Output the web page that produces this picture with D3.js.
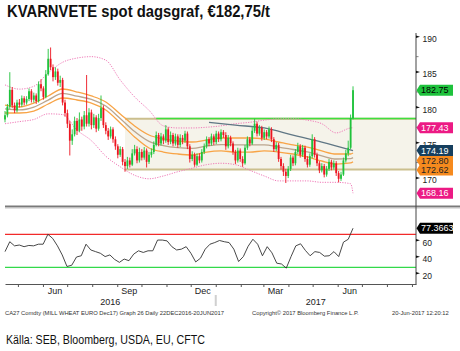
<!DOCTYPE html>
<html><head><meta charset="utf-8">
<script src="https://cdn.jsdelivr.net/npm/d3@7"></script>
<style>body{margin:0;background:#fff;} svg{display:block;}</style>
</head><body><svg id="c" width="460" height="351"></svg>
<script>
// ---------- DATA ----------
const titleText = "KVARNVETE spot dagsgraf, €182,75/t";
const sourceText = "Källa: SEB, Bloomberg, USDA, EU, CFTC";
const footLeft = "CA27 Comdty  (MILL WHEAT EURO   Dec17) Graph 26   Daily 22DEC2016-20JUN2017";
const footMid = "Copyright© 2017 Bloomberg Finance L.P.";
const footRight = "20-Jun-2017 12:20:12";

const firstOpen = 178.6;
const closes = [179.2,180.4,182.8,180.6,179.9,181.0,180.7,181.6,181.0,181.5,
182.6,181.4,182.0,181.2,183.6,183.0,181.8,185.0,187.2,186.0,
184.6,185.4,183.8,184.2,181.0,179.5,178.0,175.6,176.5,178.4,
177.0,178.6,177.6,179.2,178.0,179.6,177.8,178.9,177.3,178.8,
180.2,177.8,177.0,176.2,177.2,175.8,174.8,173.6,174.4,172.6,
172.0,172.8,172.2,173.8,174.4,172.8,174.0,173.2,174.2,172.6,
173.6,174.0,175.0,176.4,175.2,176.2,175.6,177.2,175.4,176.4,
175.2,176.2,175.0,176.0,175.6,176.6,174.8,173.0,173.6,172.2,
173.4,172.8,174.0,174.8,175.8,175.2,176.2,175.4,176.6,175.8,
176.8,176.4,174.8,176.0,175.2,174.0,172.8,174.2,173.0,172.4,
174.6,175.8,175.2,177.0,178.0,176.6,177.4,176.0,176.8,176.2,
177.2,175.8,174.4,175.0,173.0,172.0,171.2,170.6,171.6,173.2,
172.4,174.0,174.8,173.6,174.6,173.0,172.2,173.4,175.8,173.6,
172.4,171.4,172.0,170.8,171.6,172.6,171.8,172.4,171.0,170.2,
170.8,172.8,173.8,174.6,178.8,182.75];
const highs = [179.8,180.8,185.3,183.2,181.0,181.4,181.5,182.0,181.9,181.9,
183.0,182.9,182.4,182.3,184.0,184.3,183.3,185.6,188.6,188.8,
186.4,186.0,185.8,184.8,184.5,181.4,180.0,178.4,177.2,179.0,
178.8,179.6,179.0,179.8,184.9,180.2,180.0,179.4,179.2,179.4,
182.0,180.6,178.2,177.4,177.6,177.5,176.2,175.1,174.8,174.7,
173.0,173.3,173.2,174.4,175.0,174.8,174.6,174.4,174.7,174.5,
174.0,174.5,175.5,176.9,176.7,176.7,176.5,177.8,177.5,176.9,
176.7,176.6,176.5,176.5,176.4,177.0,176.9,175.1,174.1,173.9,
173.8,173.8,174.4,175.2,176.2,176.1,176.6,176.5,177.0,176.9,
177.2,177.1,176.8,176.4,176.3,175.5,174.3,174.6,174.5,173.4,
175.0,176.2,176.1,177.5,178.7,178.3,177.8,177.7,177.2,177.1,
177.6,177.5,176.1,175.4,175.3,173.3,172.4,171.6,172.0,173.6,
173.5,174.4,175.3,175.1,175.0,174.9,173.4,173.8,176.5,176.1,
173.9,172.7,172.4,172.3,172.0,173.0,172.9,172.8,172.7,171.3,
171.2,173.2,174.3,175.6,179.3,183.3];
const lows = [178.2,178.9,180.1,180.2,179.5,179.6,180.3,180.4,180.6,180.7,
181.2,181.0,181.0,180.8,181.0,182.6,181.4,181.6,184.8,185.6,
184.0,184.2,183.4,183.2,180.6,179.0,177.4,173.5,175.0,176.2,
176.4,176.8,177.0,177.2,177.6,177.6,177.2,177.4,176.8,177.0,
178.4,177.4,176.5,175.7,175.9,175.3,174.3,173.1,173.3,172.1,
171.2,171.6,171.8,172.0,173.5,172.4,172.5,172.8,172.9,171.8,
172.3,173.2,173.7,174.8,174.8,174.9,175.1,175.3,175.0,175.1,
174.8,174.9,174.6,174.7,175.1,175.3,174.4,172.5,172.7,171.9,
172.0,172.4,172.5,173.7,174.5,174.8,174.9,175.0,175.1,175.4,
175.5,176.0,174.3,174.5,174.8,173.6,172.3,172.5,172.6,171.9,
172.2,174.3,174.8,175.0,176.7,176.2,176.3,175.6,175.7,175.8,
175.9,175.4,174.0,174.1,172.6,171.5,170.6,169.6,170.3,171.3,
172.0,172.1,173.7,173.2,173.3,172.6,171.8,171.9,173.1,173.2,
172.0,171.0,171.1,170.4,170.5,171.3,171.4,171.5,170.6,169.7,
169.9,170.6,172.5,173.4,174.4,178.6];

// band values read at these candle positions
const bandIdx = [0,6,12,18,24,30,36,42,48,54,60,66,72,78,84,90,96,102,108,114,120,126,132,138,144,145];
const bbUpper = [183.5,182.9,183.3,185.2,186.7,187.3,187.5,187.0,184.2,181.8,179.9,177.7,177.4,177.4,177.5,177.7,178.0,178.2,178.5,178.7,178.7,178.5,178.0,176.7,177.4,177.43];
const bbLower = [178.0,178.3,178.6,179.4,179.3,177.1,175.6,173.4,171.9,170.7,170.2,170.6,171.2,171.7,172.2,172.4,172.2,171.4,170.6,169.9,169.9,169.9,169.7,169.7,169.5,168.16];
const envUpper = [180.65,180.37,180.93,181.93,182.92,182.49,181.93,181.08,179.38,177.68,176.40,175.84,175.55,175.41,175.69,175.98,175.98,175.98,175.84,175.41,174.99,174.70,174.14,173.71,173.71,173.85];
const envMid = [180.1,179.95,180.35,181.35,182.3,181.9,181.45,180.5,178.75,176.9,175.5,174.9,174.6,174.5,174.85,175.05,175.0,175.0,175.0,174.7,174.35,174.0,173.45,173.0,173.05,173.2];
const envLower = [179.52,179.52,179.80,180.79,181.64,181.36,180.93,179.94,178.10,176.12,174.56,173.99,173.71,173.57,173.99,174.14,173.99,173.99,174.14,173.99,173.71,173.29,172.72,172.29,172.44,172.62];
const ma200Idx = [85,96,108,120,132,145];
const ma200 = [178.2,177.8,177.4,176.4,175.4,174.19];

const rangeTop = 178.7, rangeBottom = 171.5;
const rangeStartIdx = 50, breakLineStartIdx = 63;

const rsi = [49,61,56,57,55,56.5,56,58,58,70,65,56,45,31,32.5,42.5,44,58,51,49,
47,43,45,39.5,36,40,38,46,50,48,50,50,63,63,62,55,51,52,55,47,
36.5,41,52,58,60,62.5,61,60,52,37,43,55.5,64,58,44,55,47.5,35,34,29,
43,56,58.5,50.5,44,49,48,43.5,44,49,43,60.5,64,77.37];
const rsiLast = "77.3663";
const rsiLevels = [70,30];

const priceTicks = [170,175,180,185,190];
const rsiTicks = [20,40,60];
// end-of-series value tags, highest first
const labelValues = [182.75,177.43,174.19,172.80,172.62,168.16];
const labelFill = ["#1ec23c","#ec1a84","#163f5e","#f68a1e","#f68a1e","#ec1a84"];
const labelInk = ["#000","#fff","#fff","#222","#222","#fff"];

const monthNames = ["Jun","Sep","Dec","Mar","Jun"];
const monthDates = [new Date(2016,5,16),new Date(2016,8,16),new Date(2016,11,16),new Date(2017,2,16),new Date(2017,5,16)];
const yearNames = ["2016","2017"];
const yearSpans = [[new Date(2016,3,15),new Date(2017,0,1)],[new Date(2017,0,1),new Date(2017,8,6)]];

// ---------- CHART ----------
const svg = d3.select("#c");
const AX = 416, L = 5;
const xTime = d3.scaleTime().domain([new Date(2016,3,15), new Date(2017,8,6)]).range([L, AX]);
const N = closes.length;
const xi = d3.scaleLinear().domain([0, N-1]).range([xTime(new Date(2016,3,15)), xTime(new Date(2017,5,20))]);
const xr = d3.scaleLinear().domain([0, rsi.length-1]).range(xi.range());
const y = d3.scaleLinear().domain([170,190]).range([180.2,39]);
const yr = d3.scaleLinear().domain([30,70]).range([267.3,234.3]);
const small = "'Liberation Sans', Arial, sans-serif";

// title
svg.append("text").attr("x",7).attr("y",16.5).text(titleText)
  .attr("font-family",small).attr("font-weight","bold")
  .attr("font-size",17).attr("fill","#111")
  .attr("textLength",263).attr("lengthAdjust","spacingAndGlyphs");

// range box
svg.append("rect").attr("x",xi(rangeStartIdx)).attr("y",y(rangeTop))
  .attr("width",AX-xi(rangeStartIdx)).attr("height",y(rangeBottom)-y(rangeTop))
  .attr("fill","#f5f3ea");
[rangeTop, rangeBottom].forEach(v=>{
  svg.append("line").attr("x1",xi(rangeStartIdx)).attr("x2",AX).attr("y1",y(v)).attr("y2",y(v))
    .attr("stroke","#cbbf8e").attr("stroke-width",2);
});
svg.append("line").attr("x1",xi(breakLineStartIdx)).attr("x2",AX).attr("y1",y(rangeTop)-0.3).attr("y2",y(rangeTop)-0.3)
  .attr("stroke","#3ee03e").attr("stroke-width",1.6);

// bands
const bandLine = arr => d3.line().x((d,i)=>xi(bandIdx[i])).y(d=>y(d)).curve(d3.curveMonotoneX)(arr);
svg.append("path").attr("d",bandLine(bbUpper)).attr("fill","none").attr("stroke","#f07ab8").attr("stroke-width",1).attr("stroke-dasharray","1.2,1.3");
svg.append("path").attr("d",bandLine(bbLower)).attr("fill","none").attr("stroke","#f07ab8").attr("stroke-width",1).attr("stroke-dasharray","1.2,1.3");
svg.append("path").attr("d",bandLine(envUpper)).attr("fill","none").attr("stroke","#f8a446").attr("stroke-width",1.3);
svg.append("path").attr("d",bandLine(envMid)).attr("fill","none").attr("stroke","#bba58e").attr("stroke-width",1.3);
svg.append("path").attr("d",bandLine(envLower)).attr("fill","none").attr("stroke","#f8a446").attr("stroke-width",1.3);

// 200d MA
svg.append("path").attr("d", d3.line().x((d,i)=>xi(ma200Idx[i])).y(d=>y(d)).curve(d3.curveMonotoneX)(ma200))
  .attr("fill","none").attr("stroke","#5f7684").attr("stroke-width",1.3);

// candles
const opens = closes.map((c,i)=> i===0 ? firstOpen : closes[i-1]);
const cg = svg.append("g");
closes.forEach((c,i)=>{
  const o = opens[i], up = c >= o, col = up ? "#1fc23b" : "#ec1520";
  const x = xi(i);
  cg.append("line").attr("x1",x).attr("x2",x).attr("y1",y(highs[i])).attr("y2",y(lows[i]))
    .attr("stroke",col).attr("stroke-width",0.9);
  const t = y(Math.max(o,c)), b = y(Math.min(o,c));
  cg.append("rect").attr("x",x-0.9).attr("width",1.8).attr("y",t).attr("height",Math.max(0.8,b-t)).attr("fill",col);
});

// separator
svg.append("rect").attr("x",L).attr("y",205.5).attr("width",460-L).attr("height",2).attr("fill","#7a7a7a");
svg.append("rect").attr("x",L).attr("y",207.5).attr("width",460-L).attr("height",1).attr("fill","#c4c4c4");

// RSI levels
svg.append("line").attr("x1",L).attr("x2",AX).attr("y1",yr(rsiLevels[0])).attr("y2",yr(rsiLevels[0])).attr("stroke","#f22a2a").attr("stroke-width",1.3);
svg.append("line").attr("x1",L).attr("x2",AX).attr("y1",yr(rsiLevels[1])).attr("y2",yr(rsiLevels[1])).attr("stroke","#33d94a").attr("stroke-width",1.3);
svg.append("path").attr("d", d3.line().x((d,i)=>xr(i)).y(d=>yr(d))(rsi))
  .attr("fill","none").attr("stroke","#333").attr("stroke-width",0.9);

// x axis
const months = d3.timeMonth.range(new Date(2016,4,1), new Date(2017,8,2));
const xa = svg.append("g").attr("transform","translate(0,284)")
  .call(d3.axisBottom(xTime).tickValues(months).tickFormat("").tickSize(3).tickSizeOuter(0));
xa.select(".domain").attr("stroke","#555");
xa.selectAll(".tick line").attr("stroke","#555");
monthNames.forEach((m,i)=>{
  svg.append("text").attr("x",xTime(monthDates[i])).attr("y",294).attr("text-anchor","middle")
    .attr("font-family",small).attr("font-size",9).attr("fill","#222").text(m);
});
yearNames.forEach((m,i)=>{
  const cx = (xTime(yearSpans[i][0])+xTime(yearSpans[i][1]))/2;
  svg.append("text").attr("x",cx).attr("y",304.5).attr("text-anchor","middle")
    .attr("font-family",small).attr("font-size",9).attr("fill","#222").text(m);
});
svg.append("rect").attr("x",xTime(yearSpans[1][0])-1).attr("y",295).attr("width",2).attr("height",11).attr("fill","#d0d0d0");

// right axis
svg.append("line").attr("x1",AX).attr("x2",AX).attr("y1",33).attr("y2",284.5).attr("stroke","#444").attr("stroke-width",1);
const flag = (yy)=>{
  svg.append("path").attr("d",`M${AX},${yy-3.5}L${AX+4},${yy-2.2}L${AX},${yy-1}Z`).attr("fill","#111");
};
priceTicks.forEach(v=>{
  flag(y(v));
  svg.append("text").attr("x",AX+6.5).attr("y",y(v)+3).attr("font-family",small).attr("font-size",8.5).attr("fill","#222").text(v);
});
[172.5,177.5,182.5,187.5].forEach(v=>{
  svg.append("line").attr("x1",AX).attr("x2",AX+2.5).attr("y1",y(v)).attr("y2",y(v)).attr("stroke","#666").attr("stroke-width",0.8);
});
rsiTicks.forEach(v=>{
  flag(yr(v));
  svg.append("text").attr("x",AX+6.5).attr("y",yr(v)+3).attr("font-family",small).attr("font-size",8.5).attr("fill","#222").text(v);
});

// value tags
const tag = (yy, fill, ink, txt)=>{
  svg.append("path").attr("d",`M${AX+0.5},${yy}L${AX+4},${yy-5.5}L${AX+37},${yy-5.5}L${AX+37},${yy+5.5}L${AX+4},${yy+5.5}Z`).attr("fill",fill);
  svg.append("text").attr("x",AX+5).attr("y",yy+3.2).attr("font-family",small).attr("font-size",9).attr("fill",ink).text(txt);
};
// stack tags downward so that crowded ones stay readable (as Bloomberg does)
const tagY = [];
labelValues.forEach((v,i)=>{
  let yy = y(v);
  if (i>0 && yy < tagY[i-1] + 9.5) yy = tagY[i-1] + 9.5;
  tagY.push(yy);
});
// draw lower tags first so upper ones overlap them
for (let i = labelValues.length-1; i >= 0; i--) tag(tagY[i], labelFill[i], labelInk[i], labelValues[i].toFixed(2));
tag(yr(+rsiLast), "#000", "#fff", rsiLast);

// footer
svg.append("text").attr("x",5).attr("y",314.5).attr("font-family",small).attr("font-size",5.8).attr("fill","#333").text(footLeft);
svg.append("text").attr("x",252).attr("y",314.5).attr("font-family",small).attr("font-size",5.8).attr("fill","#333").text(footMid);
svg.append("text").attr("x",392).attr("y",314.5).attr("font-family",small).attr("font-size",5.8).attr("fill","#333").text(footRight);
svg.append("text").attr("x",6).attr("y",343.5).attr("font-family",small)
  .attr("font-size",13.5).attr("fill","#111").attr("textLength",199).attr("lengthAdjust","spacingAndGlyphs").text(sourceText);
</script></body></html>
